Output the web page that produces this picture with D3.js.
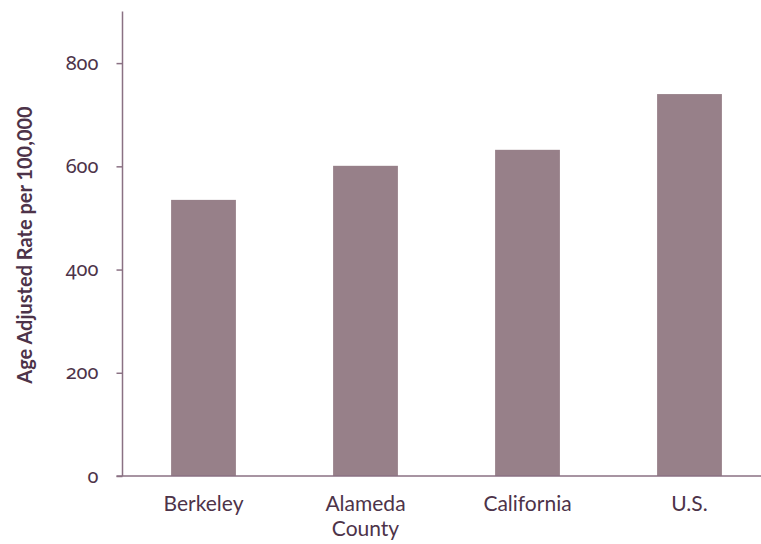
<!DOCTYPE html>
<html>
<head>
<meta charset="utf-8">
<script src="https://cdn.jsdelivr.net/npm/d3@7"></script>
<style>
  html, body { margin: 0; padding: 0; background: #ffffff; }
  svg { display: block; }
  text { font-family: Lato, "Open Sans", sans-serif; }
  .ytick text { font-family: "Noto Sans", Lato, sans-serif; font-feature-settings: "onum" 1; font-variant-numeric: oldstyle-nums; }
</style>
</head>
<body>
<svg id="chart" width="761" height="544"></svg>
<script>
const categories = [["Berkeley"], ["Alameda", "County"], ["California"], ["U.S."]];
const values = [535, 601, 632, 740];
const yTicks = [0, 200, 400, 600, 800];
const yTitle = "Age Adjusted Rate per 100,000";

const svg = d3.select("#chart");
const axisColor = "#8a7183";
const textColor = "#4d3349";
const barColor = "#978089";

const x0 = 122.5, y0 = 476, yTop = 11.5;
const keys = categories.map(c => c.join(" "));

const x = d3.scaleBand().domain(keys).range([x0, x0 + 648]).paddingInner(0.6).paddingOuter(0.3);
const y = d3.scaleLinear().domain([0, 900]).range([y0, yTop]);

// bars
svg.append("g").selectAll("rect").data(values).join("rect")
  .attr("x", (d, i) => x(keys[i]))
  .attr("width", x.bandwidth())
  .attr("y", d => y(d))
  .attr("height", d => y(0) - y(d))
  .attr("fill", barColor);

// y axis
const yAxis = svg.append("g").attr("class", "ytick").attr("transform", `translate(${x0},0)`)
  .call(d3.axisLeft(y).tickValues(yTicks).tickSize(6).tickPadding(18).tickFormat(d3.format("d")));
yAxis.select(".domain").attr("stroke", axisColor).attr("stroke-width", 1.5).attr("d", `M0,${yTop}V${y0}`);
yAxis.selectAll(".tick line").attr("stroke", axisColor).attr("stroke-width", 1.5);
yAxis.selectAll(".tick text").attr("fill", textColor).style("font-size", "20px").attr("dy", "0.3em");

// x axis
const xAxis = svg.append("g").attr("transform", `translate(0,${y0})`)
  .call(d3.axisBottom(x).tickSize(0).tickPadding(0).tickFormat(() => ""));
xAxis.select(".domain").attr("stroke", axisColor).attr("stroke-width", 1.5).attr("d", `M${x0 - 6},0H761`);
xAxis.selectAll(".tick").each(function(d, i) {
  const t = d3.select(this).select("text").attr("fill", textColor).style("font-size", "21px").attr("dy", null).attr("y", 35);
  categories[i].forEach((line, j) => {
    t.append("tspan").attr("x", 0).attr("y", 35 + j * 25).text(line);
  });
});

// y title
svg.append("text")
  .attr("transform", `translate(32,245) rotate(-90)`)
  .attr("text-anchor", "middle")
  .attr("fill", textColor)
  .style("font-size", "20px")
  .style("font-weight", "bold")
  .text(yTitle);
</script>
</body>
</html>
